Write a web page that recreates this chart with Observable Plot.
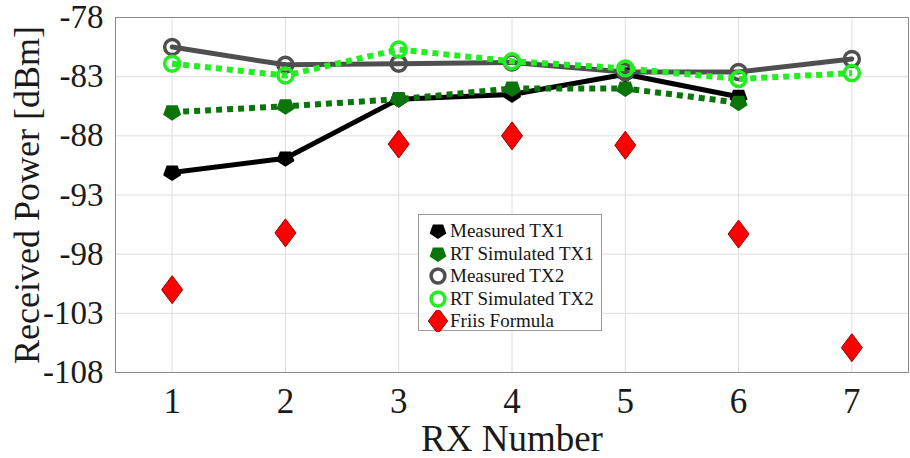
<!DOCTYPE html>
<html><head><meta charset="utf-8">
<script src="https://cdn.jsdelivr.net/npm/d3@7"></script>
<script src="https://cdn.jsdelivr.net/npm/@observablehq/plot@0.6"></script>
<style>
body{margin:0;background:#fff;}
#wrap{position:relative;width:910px;height:458px;}
#legend{position:absolute;left:418px;top:214px;width:184px;height:117px;border:1px solid #9a9a9a;background:#fff;box-sizing:border-box;padding-top:5px;font-family:"Liberation Serif","Times New Roman",serif;font-size:19px;color:#151515;}
.row{height:22.5px;display:flex;align-items:center;padding-left:5px;white-space:nowrap;}
.row svg{width:26px;height:22px;flex:none;}
</style></head><body><div id="wrap"><div id="chart"></div><div id="legend"></div></div>
<script>
const rx = [1, 2, 3, 4, 5, 6, 7];
const seriesNames = ["Measured TX1", "RT Simulated TX1", "Measured TX2", "RT Simulated TX2", "Friis Formula"];
const measuredTX1 = [-91.1, -89.9, -84.9, -84.5, -82.8, -84.7, null];
const rtSimTX1    = [-86.0, -85.5, -84.9, -84.0, -84.0, -85.2, null];
const measuredTX2 = [-80.5, -82.0, -81.9, -81.8, -82.6, -82.6, -81.5];
const rtSimTX2    = [-81.9, -82.9, -80.7, -81.7, -82.3, -83.2, -82.7];
const friis       = [-101.0, -96.2, -88.7, -88.0, -88.8, -96.3, -105.9];
const xTicks = [1, 2, 3, 4, 5, 6, 7];
const yTicks = [-108, -103, -98, -93, -88, -83, -78];

function polySymbol(pts) {
  return {draw(ctx, size) {
    const r = Math.sqrt(size / Math.PI);
    pts.forEach(([x, y], i) => i ? ctx.lineTo(x * r, y * r) : ctx.moveTo(x * r, y * r));
    ctx.closePath();
  }};
}
const pentDown = polySymbol(d3.range(5).map(i => {
  const a = Math.PI / 2 + i * 2 * Math.PI / 5;
  return [Math.cos(a), Math.sin(a) * 0.9];
}));
const diamondTall = polySymbol([[0, -1.4], [1.05, 0], [0, 1.4], [-1.05, 0]]);

const valueArrays = [measuredTX1, rtSimTX1, measuredTX2, rtSimTX2, friis];
const styles = [
  {line: true, stroke: "#000000", width: 5, dash: null, symbol: pentDown, fill: "#000000", mstroke: "#000000", msw: 1.5, r: 8.5},
  {line: true, stroke: "#0b750b", width: 6, dash: "6,5", symbol: pentDown, fill: "#0b750b", mstroke: "#0b750b", msw: 1.5, r: 8.5},
  {line: true, stroke: "#4f4f4f", width: 5, dash: null, symbol: d3.symbolCircle, fill: "none", mstroke: "#4f4f4f", msw: 3.5, r: 7.5},
  {line: true, stroke: "#22ee22", width: 6, dash: "6,5", symbol: d3.symbolCircle, fill: "none", mstroke: "#22ee22", msw: 3.5, r: 7.5},
  {line: false, symbol: diamondTall, fill: "#ff0000", mstroke: "#9a0000", msw: 1, r: 10}
];

const tables = valueArrays.map((arr, k) =>
  rx.map((x, i) => ({rx: x, value: arr[i], series: seriesNames[k]})).filter(d => d.value != null));

const marks = [
  Plot.gridX(xTicks, {stroke: "#dedede", strokeOpacity: 1}),
  Plot.gridY(yTicks, {stroke: "#dedede", strokeOpacity: 1}),
  Plot.frame({stroke: "#8a8a8a"}),
  Plot.axisX(xTicks, {tickSize: 0, tickPadding: 16, fontSize: 35, label: null, tickFormat: d => String(d), fill: "#1a1a1a"}),
  Plot.axisY(yTicks, {tickSize: 0, tickPadding: 12, fontSize: 33, label: null, tickFormat: d => String(d), fill: "#1a1a1a"}),
  Plot.text(["Received Power [dBm]"], {frameAnchor: "left", textAnchor: "middle", lineAnchor: "middle", rotate: -90, dx: -88, fontSize: 36, fill: "#1a1a1a"}),
  Plot.text(["RX Number"], {frameAnchor: "bottom", textAnchor: "middle", lineAnchor: "middle", dy: 67, fontSize: 37, fill: "#1a1a1a"})
];
tables.forEach((t, k) => {
  const s = styles[k];
  if (s.line) marks.push(Plot.line(t, {x: "rx", y: "value", stroke: s.stroke, strokeWidth: s.width, strokeDasharray: s.dash, strokeLinejoin: "round", strokeLinecap: s.dash ? "butt" : "round"}));
  marks.push(Plot.dot(t, {x: "rx", y: "value", symbol: () => s.symbol, r: s.r, fill: s.fill, stroke: s.mstroke, strokeWidth: s.msw}));
});

const chart = Plot.plot({
  width: 910, height: 458,
  marginLeft: 115, marginRight: 2, marginTop: 17, marginBottom: 86,
  x: {domain: [0.5, 7.5]},
  y: {domain: [-108, -78]},
  symbol: {type: "identity"},
  style: {fontFamily: "'Liberation Serif','Times New Roman',serif", background: "#fff"},
  marks
});
document.getElementById("chart").appendChild(chart);

const legend = document.getElementById("legend");
seriesNames.forEach((name, k) => {
  const s = styles[k];
  const p = d3.path();
  s.symbol.draw(p, s.r * s.r * Math.PI * 0.85);
  const row = document.createElement("div");
  row.className = "row";
  row.innerHTML = `<svg viewBox="0 0 26 22"><g transform="translate(14,11)"><path d="${p.toString()}" fill="${s.fill}" stroke="${s.mstroke}" stroke-width="${s.msw}"/></g></svg><span>${name}</span>`;
  legend.appendChild(row);
});
</script></body></html>
